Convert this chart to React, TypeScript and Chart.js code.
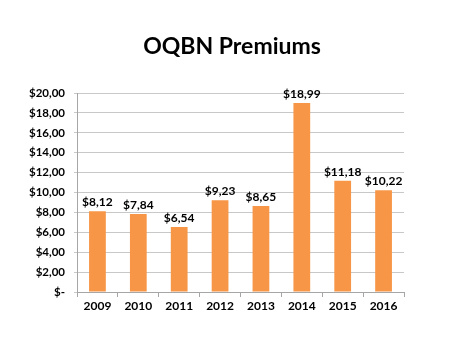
import React, { useEffect, useRef } from "react";
import { Chart, registerables } from "chart.js";

Chart.register(...registerables);

const categories = ["2009", "2010", "2011", "2012", "2013", "2014", "2015", "2016"];
const premiums = [8.12, 7.84, 6.54, 9.23, 8.65, 18.99, 11.18, 10.22];
const yTickValues = [0, 2, 4, 6, 8, 10, 12, 14, 16, 18, 20];
const titleText = "OQBN Premiums";

const FONT = "Lato, 'Open Sans', 'Liberation Sans', sans-serif";

const fmt = (v: number) => (v === 0 ? "$-" : "$" + v.toFixed(2).replace(".", ","));

const valueLabels = {
  id: "valueLabels",
  afterDatasetsDraw(chart: any) {
    const ctx = chart.ctx;
    const meta = chart.getDatasetMeta(0);
    ctx.save();
    ctx.font = `bold 12px ${FONT}`;
    ctx.fillStyle = "#000";
    ctx.textAlign = "center";
    ctx.textBaseline = "bottom";
    meta.data.forEach((bar: any, i: number) => {
      ctx.fillText(fmt(premiums[i]), bar.x, bar.y - 3);
    });
    ctx.restore();
  },
};

const titlePlugin = {
  id: "customTitle",
  afterDraw(chart: any) {
    const ctx = chart.ctx;
    ctx.save();
    ctx.font = `bold 23px ${FONT}`;
    ctx.fillStyle = "#000";
    ctx.textAlign = "center";
    ctx.textBaseline = "middle";
    ctx.fillText(titleText, 232, 47);
    ctx.restore();
  },
};

export default function App() {
  const ref = useRef<HTMLCanvasElement>(null);
  useEffect(() => {
    document.body.style.margin = "0";
    const chart = new Chart(ref.current!, {
      type: "bar",
      data: {
        labels: categories,
        datasets: [
          {
            data: premiums,
            backgroundColor: "#F79646",
            borderWidth: 0,
            categoryPercentage: 1,
            barPercentage: 0.41,
          },
        ],
      },
      plugins: [valueLabels, titlePlugin],
      options: {
        responsive: false,
        animation: false,
        layout: { padding: { top: 93, right: 70, bottom: 0, left: 0 } },
        plugins: {
          legend: { display: false },
          tooltip: { enabled: false },
          title: { display: false },
        },
        scales: {
          x: {
            grid: {
              display: true,
              drawOnChartArea: false,
              drawTicks: true,
              tickLength: 5,
              color: "#a6a6a6",
              offset: true,
            },
            border: { color: "#a6a6a6" },
            ticks: {
              color: "#000",
              font: { family: FONT, size: 12, weight: "bold" },
              padding: 2,
            },
            afterFit(scale: any) {
              scale.height = 355 - 292;
            },
          },
          y: {
            min: 0,
            max: 20,
            afterBuildTicks(scale: any) {
              scale.ticks = yTickValues.map((v) => ({ value: v }));
            },
            grid: {
              color: "#c8c8c8",
              drawTicks: true,
              tickLength: 3,
            },
            border: { color: "#a6a6a6" },
            ticks: {
              color: "#000",
              font: { family: FONT, size: 11.5, weight: "bold" },
              padding: 9,
              callback: (v: any) => fmt(Number(v)),
            },
            afterFit(scale: any) {
              scale.width = 77;
            },
          },
        },
      },
    });
    return () => chart.destroy();
  }, []);
  return (
    <div style={{ position: "absolute", left: 0, top: 0, width: 474, height: 355, background: "#fff" }}>
      <canvas ref={ref} width={474} height={355} style={{ width: 474, height: 355 }} />
    </div>
  );
}
